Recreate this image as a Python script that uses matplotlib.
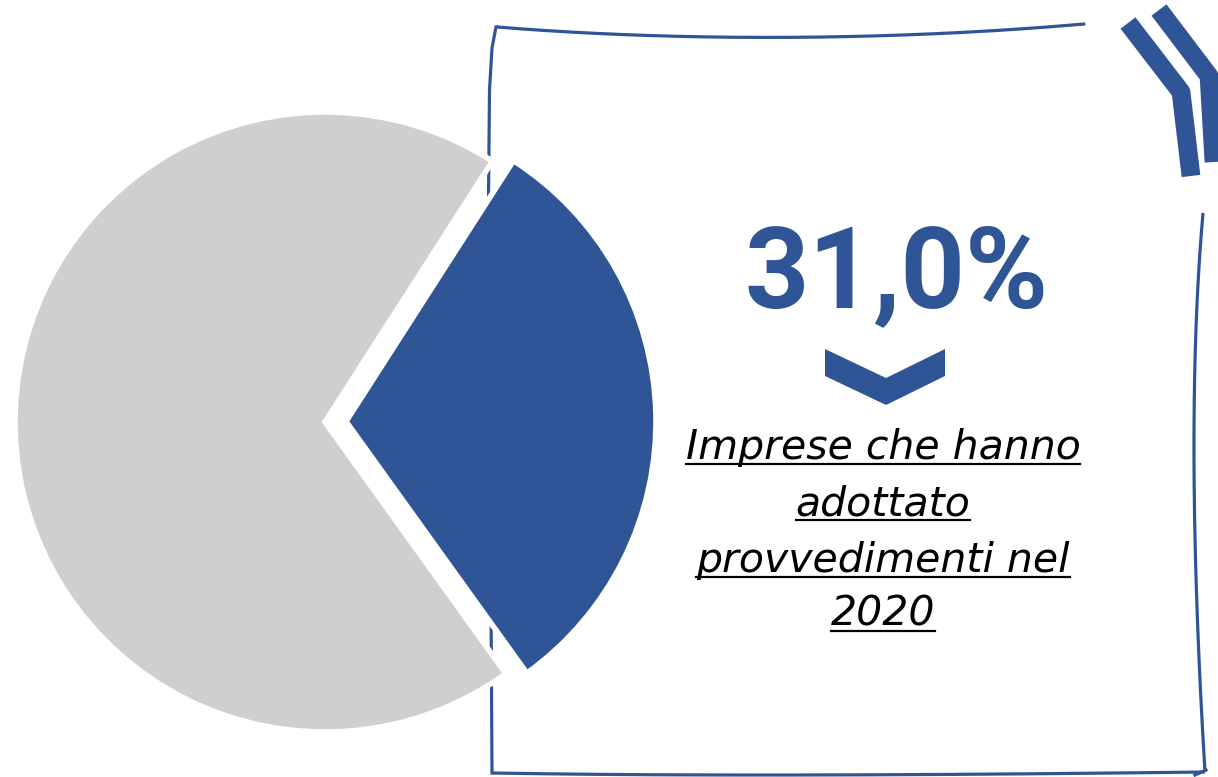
import matplotlib
matplotlib.use("Agg")
import matplotlib.pyplot as plt
from matplotlib.patches import Polygon
import numpy as np

# ---- data ----
labels = ["Imprese che hanno adottato provvedimenti nel 2020", "Altre imprese"]
values = [31.0, 69.0]
colors = ["#2F5597", "#D0CECE"]
headline = "31,0%"
caption_lines = ["Imprese che hanno", "adottato", "provvedimenti nel", "2020"]

W, H = 1218, 777
BLUE = "#2F5597"

fig = plt.figure(figsize=(W / 100, H / 100), dpi=100)
ax = fig.add_axes([0, 0, 1, 1])

# ---- hand-drawn box ----
def smooth(pts, n=200):
    pts = np.array(pts, dtype=float)
    t = np.linspace(0, 1, len(pts))
    tt = np.linspace(0, 1, n)
    deg = min(3, len(pts) - 1)
    px = np.polyfit(t, pts[:, 0], deg)
    py = np.polyfit(t, pts[:, 1], deg)
    return np.polyval(px, tt), np.polyval(py, tt)

lw_box = 2.3
top = [(496, 27), (620, 34), (760, 38), (920, 34), (1085, 24)]
bottom = [(492, 773), (800, 775), (1205, 772)]
right = [(1203, 213), (1194, 460), (1205, 772)]
for seg in (top, bottom, right):
    x, y = smooth(seg)
    ax.plot(x, y, color=BLUE, lw=lw_box, solid_capstyle="butt", zorder=1)
left = np.array([(496, 27), (492, 48), (489.5, 90), (488.5, 200), (489, 400),
                 (491, 600), (492, 773)])
ax.plot(left[:, 0], left[:, 1], color=BLUE, lw=lw_box, solid_joinstyle="round", zorder=1)
ax.plot([1195, 1206], [775, 770], color=BLUE, lw=lw_box, zorder=1)

# ---- decorative double chevron top-right ----
ax.plot([1128, 1181, 1191], [23, 92, 176], color=BLUE, lw=13.5, solid_capstyle="butt",
        solid_joinstyle="round", zorder=2)
ax.plot([1159, 1209, 1214], [10, 76, 162], color=BLUE, lw=13.5, solid_capstyle="butt",
        solid_joinstyle="round", zorder=2)

# ---- pie ----
ax.pie(values, colors=colors, startangle=-57.3, counterclock=True,
       center=(325, 422), radius=310, explode=[21, 0],
       wedgeprops=dict(edgecolor="white", linewidth=4), frame=True)
ax.set_xlim(0, W)
ax.set_ylim(H, 0)
ax.set_aspect("equal")
ax.axis("off")

# ---- headline ----
ax.text(897, 307, headline, fontsize=81, fontweight="bold", color=BLUE,
        ha="center", va="baseline", family="Roboto", zorder=5)

# ---- chevron arrow ----
arrow = Polygon([(825, 349), (886, 378), (945, 349), (945, 376), (886, 405), (825, 376)],
                closed=True, facecolor=BLUE, edgecolor="none", zorder=5)
ax.add_patch(arrow)

# ---- caption with underline ----
baselines = [459, 515, 572, 626]
fig.canvas.draw()
renderer = fig.canvas.get_renderer()
for txt, yb in zip(caption_lines, baselines):
    t = ax.text(883, yb, txt, fontsize=29.5, style="italic", color="black",
                ha="center", va="baseline", family="DejaVu Sans", zorder=5)
    bb = t.get_window_extent(renderer=renderer)
    inv = ax.transData.inverted()
    (x0, _), (x1, _) = inv.transform([(bb.x0, 0), (bb.x1, 0)])
    ax.plot([x0, x1], [yb + 4.5, yb + 4.5], color="black", lw=1.6, zorder=5)

fig.savefig("out.png", dpi=100, facecolor="white")
